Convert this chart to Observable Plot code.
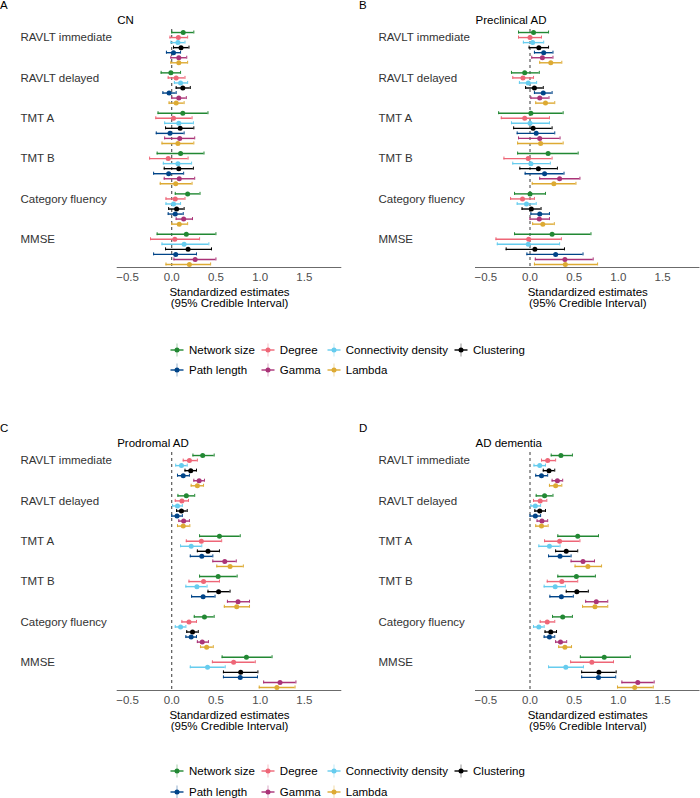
<!DOCTYPE html>
<html>
<head>
<meta charset="utf-8">
<script src="https://cdn.jsdelivr.net/npm/d3@7"></script>
<script src="https://cdn.jsdelivr.net/npm/@observablehq/plot@0.6"></script>
<style>
  html, body { margin: 0; padding: 0; background: #fff; }
  #root { position: relative; width: 700px; height: 798px; overflow: hidden; font-family: "Liberation Sans", Arial, sans-serif; font-size: 11.5px; color: #000; }
  .abs { position: absolute; }
  .letter { position: absolute; font-size: 11.5px; line-height: 1; }
  .legend { position: absolute; display: grid; grid-template-columns: auto auto auto auto; column-gap: 6px; grid-auto-rows: 20.6px; }
  .item { display: flex; align-items: center; white-space: nowrap; color: #000; }
  .item svg { margin-right: 5px; }
</style>
</head>
<body>
<div id="root"></div>
<script>
const FONT = '"Liberation Sans", Arial, sans-serif';

// ---- categories ----
const outcomes = ["RAVLT immediate", "RAVLT delayed", "TMT A", "TMT B", "Category fluency", "MMSE"];
const measures = ["Network size", "Degree", "Connectivity density", "Clustering", "Path length", "Gamma", "Lambda"];
const measureColors = ["#228833", "#EE6677", "#66CCEE", "#000000", "#004488", "#AA3377", "#DDAA33"];
const xTicks = [-0.5, 0, 0.5, 1, 1.5];
const xLabel = "Standardized estimates\n(95% Credible Interval)";

// ---- A: CN (rows = outcomes, columns = measures) ----
const cnEst = [
  [0.13, 0.075, 0.07, 0.105, 0.02, 0.08, 0.08],
  [-0.01, 0.05, 0.10, 0.125, -0.03, 0.08, 0.05],
  [0.125, 0.02, 0.08, 0.095, -0.02, 0.09, 0.07],
  [0.10, -0.04, 0.07, 0.08, -0.035, 0.085, 0.045],
  [0.18, 0.04, 0.02, 0.055, 0.04, 0.135, 0.085],
  [0.165, 0.035, 0.14, 0.185, 0.045, 0.265, 0.20]
];
const cnLo = [
  [0.0, -0.02, -0.01, 0.02, -0.06, -0.01, -0.01],
  [-0.12, -0.04, 0.03, 0.05, -0.10, 0.0, -0.03],
  [-0.155, -0.18, -0.08, -0.07, -0.175, -0.08, -0.11],
  [-0.165, -0.25, -0.095, -0.085, -0.205, -0.085, -0.13],
  [0.04, -0.065, -0.065, -0.035, -0.04, 0.05, 0.0],
  [-0.165, -0.24, -0.11, -0.07, -0.205, 0.025, -0.065]
];
const cnHi = [
  [0.25, 0.18, 0.15, 0.195, 0.10, 0.17, 0.18],
  [0.10, 0.15, 0.18, 0.21, 0.05, 0.165, 0.14],
  [0.41, 0.23, 0.245, 0.25, 0.14, 0.26, 0.25],
  [0.365, 0.185, 0.225, 0.245, 0.135, 0.26, 0.23],
  [0.32, 0.15, 0.10, 0.14, 0.13, 0.235, 0.18],
  [0.50, 0.315, 0.42, 0.45, 0.28, 0.50, 0.44]
];

// ---- B: Preclinical AD ----
const preEst = [
  [0.04, 0.0, 0.03, 0.10, 0.155, 0.14, 0.235],
  [-0.06, -0.08, -0.02, 0.05, 0.15, 0.11, 0.175],
  [0.01, -0.06, 0.0, 0.035, 0.07, 0.11, 0.12],
  [0.205, -0.02, 0.01, 0.095, 0.165, 0.335, 0.27],
  [0.0, -0.085, -0.04, 0.015, 0.11, 0.105, 0.145],
  [0.25, -0.015, -0.02, 0.055, 0.29, 0.395, 0.40]
];
const preLo = [
  [-0.13, -0.13, -0.075, -0.01, 0.05, 0.02, 0.11],
  [-0.21, -0.195, -0.12, -0.05, 0.05, 0.01, 0.065],
  [-0.355, -0.325, -0.21, -0.185, -0.145, -0.13, -0.14],
  [-0.14, -0.295, -0.195, -0.115, -0.055, 0.11, 0.025],
  [-0.175, -0.22, -0.145, -0.09, 0.01, 0.0, 0.03],
  [-0.175, -0.385, -0.37, -0.27, -0.035, 0.06, 0.05]
];
const preHi = [
  [0.21, 0.13, 0.155, 0.21, 0.26, 0.26, 0.36],
  [0.105, 0.04, 0.075, 0.15, 0.25, 0.215, 0.28],
  [0.375, 0.22, 0.22, 0.25, 0.28, 0.34, 0.375],
  [0.545, 0.25, 0.23, 0.31, 0.385, 0.565, 0.52],
  [0.175, 0.05, 0.07, 0.125, 0.22, 0.22, 0.275],
  [0.69, 0.355, 0.335, 0.39, 0.60, 0.715, 0.765]
];

// ---- C: Prodromal AD ----
const proEst = [
  [0.35, 0.20, 0.11, 0.215, 0.13, 0.31, 0.29],
  [0.165, 0.115, 0.065, 0.11, 0.06, 0.135, 0.13],
  [0.54, 0.335, 0.22, 0.41, 0.34, 0.60, 0.66],
  [0.525, 0.36, 0.285, 0.53, 0.355, 0.75, 0.735],
  [0.37, 0.195, 0.10, 0.235, 0.22, 0.345, 0.395],
  [0.845, 0.70, 0.405, 0.78, 0.775, 1.225, 1.19]
];
const proLo = [
  [0.24, 0.13, 0.045, 0.15, 0.065, 0.25, 0.22],
  [0.07, 0.04, 0.01, 0.055, 0.0, 0.08, 0.065],
  [0.315, 0.165, 0.10, 0.29, 0.21, 0.465, 0.51],
  [0.315, 0.195, 0.16, 0.41, 0.225, 0.63, 0.595],
  [0.255, 0.115, 0.04, 0.17, 0.16, 0.29, 0.325],
  [0.57, 0.46, 0.21, 0.585, 0.585, 1.04, 0.99]
];
const proHi = [
  [0.48, 0.29, 0.175, 0.28, 0.20, 0.37, 0.36],
  [0.26, 0.19, 0.12, 0.175, 0.12, 0.20, 0.205],
  [0.775, 0.565, 0.34, 0.54, 0.465, 0.73, 0.81],
  [0.74, 0.54, 0.40, 0.66, 0.49, 0.88, 0.88],
  [0.48, 0.28, 0.16, 0.30, 0.28, 0.415, 0.47],
  [1.135, 0.945, 0.605, 0.975, 0.97, 1.405, 1.395]
];

// ---- D: AD dementia ----
const demEst = [
  [0.35, 0.20, 0.11, 0.215, 0.13, 0.31, 0.29],
  [0.165, 0.115, 0.06, 0.11, 0.06, 0.135, 0.13],
  [0.54, 0.335, 0.22, 0.41, 0.34, 0.60, 0.655],
  [0.525, 0.36, 0.285, 0.53, 0.355, 0.75, 0.735],
  [0.37, 0.195, 0.10, 0.235, 0.22, 0.345, 0.395],
  [0.84, 0.70, 0.405, 0.78, 0.775, 1.22, 1.185]
];
const demLo = [
  [0.24, 0.13, 0.045, 0.15, 0.065, 0.25, 0.22],
  [0.07, 0.04, 0.01, 0.055, 0.0, 0.08, 0.065],
  [0.315, 0.165, 0.10, 0.29, 0.21, 0.465, 0.51],
  [0.315, 0.195, 0.16, 0.41, 0.225, 0.63, 0.595],
  [0.255, 0.115, 0.04, 0.17, 0.16, 0.29, 0.325],
  [0.57, 0.46, 0.21, 0.585, 0.585, 1.04, 0.99]
];
const demHi = [
  [0.48, 0.29, 0.175, 0.28, 0.20, 0.37, 0.36],
  [0.26, 0.19, 0.12, 0.175, 0.12, 0.20, 0.205],
  [0.775, 0.565, 0.34, 0.54, 0.465, 0.73, 0.81],
  [0.74, 0.54, 0.40, 0.66, 0.49, 0.88, 0.88],
  [0.48, 0.28, 0.16, 0.30, 0.28, 0.415, 0.47],
  [1.135, 0.945, 0.605, 0.975, 0.97, 1.405, 1.395]
];

const panels = [
  {letter: "A", title: "CN", est: cnEst, lo: cnLo, hi: cnHi},
  {letter: "B", title: "Preclinical AD", est: preEst, lo: preLo, hi: preHi},
  {letter: "C", title: "Prodromal AD", est: proEst, lo: proLo, hi: proHi},
  {letter: "D", title: "AD dementia", est: demEst, lo: demLo, hi: demHi}
];

// ---- layout ----
const GROUP = measures.length + 1;          // 7 rows + 1 gap per outcome
const Y_MIN = -0.6, Y_MAX = (outcomes.length - 1) * GROUP + measures.length - 1 + 0.6;
const X_DOMAIN = [-0.617, 1.924];

function makePanel(p, col) {
  const rows = [];
  outcomes.forEach((o, g) => measures.forEach((m, s) => rows.push({
    outcome: o, measure: m, row: g * GROUP + s,
    est: p.est[g][s], lo: p.lo[g][s], hi: p.hi[g][s]
  })));
  const marginLeft = col === 0 ? 116.7 : 125;
  const marginRight = col === 0 ? 8.7 : 0.5;
  const labelLeft = col === 0 ? 20 : 28;
  return Plot.plot({
    width: 350, height: 315,
    marginLeft, marginRight, marginTop: 29, marginBottom: 48,
    style: {fontFamily: FONT, fontSize: "11.5px", background: "transparent", overflow: "visible"},
    x: {domain: X_DOMAIN},
    y: {domain: [Y_MIN, Y_MAX], reverse: true},
    color: {domain: measures, range: measureColors},
    marks: [
      Plot.ruleX([0], {stroke: "#222", strokeWidth: 0.9, strokeDasharray: "3,3"}),
      Plot.ruleY([Y_MAX], {stroke: "#6b6b6b", strokeWidth: 1.1}),
      Plot.ruleY(rows, {y: "row", x1: "lo", x2: "hi", stroke: "measure", strokeWidth: 1.4}),
      Plot.ruleX(rows, {x: "lo", y1: d => d.row - 0.3, y2: d => d.row + 0.3, stroke: "measure", strokeWidth: 1}),
      Plot.ruleX(rows, {x: "hi", y1: d => d.row - 0.3, y2: d => d.row + 0.3, stroke: "measure", strokeWidth: 1}),
      Plot.dot(rows, {x: "est", y: "row", r: 2.5, fill: "measure", stroke: null}),
      Plot.axisX({ticks: xTicks, tickSize: 0, tickPadding: 5, tickFormat: d3.format(".1f"), fill: "#4d4d4d", label: null}),
      Plot.axisY({ticks: outcomes.map((_, g) => g * GROUP + 1), tickFormat: r => outcomes[(r - 1) / GROUP],
                  tickSize: 0, tickPadding: marginLeft - labelLeft, textAnchor: "start", fill: "#333", label: null}),
      Plot.text([p.title], {text: d => d, frameAnchor: "top-left", textAnchor: "start", lineAnchor: "bottom", dy: -5.7, fill: "#000"}),
      Plot.text([xLabel], {text: d => d, frameAnchor: "bottom", lineAnchor: "top", dy: 20.3, lineHeight: 1, fill: "#000"})
    ]
  });
}

function legendKey(color) {
  const svg = d3.create("svg").attr("width", 14).attr("height", 14);
  svg.append("line").attr("x1", 7).attr("x2", 7).attr("y1", 0.5).attr("y2", 13.5).attr("stroke", color).attr("stroke-opacity", 0.35).attr("stroke-width", 1.2);
  svg.append("line").attr("x1", 0.5).attr("x2", 13.5).attr("y1", 7).attr("y2", 7).attr("stroke", color).attr("stroke-width", 1.4);
  svg.append("circle").attr("cx", 7).attr("cy", 7).attr("r", 2.5).attr("fill", color);
  return svg.node();
}

const root = document.getElementById("root");
const halves = [0, 423];
panels.forEach((p, i) => {
  const col = i % 2, top = halves[Math.floor(i / 2)];
  const wrap = document.createElement("div");
  wrap.className = "abs";
  wrap.style.left = (col * 350) + "px";
  wrap.style.top = top + "px";
  wrap.appendChild(makePanel(p, col));
  root.appendChild(wrap);
  const L = document.createElement("div");
  L.className = "letter";
  L.textContent = p.letter;
  L.style.left = (col === 0 ? 0 : 359) + "px";
  L.style.top = top + "px";
  root.appendChild(L);
});

[0, 421.5].forEach(top => {
  const lg = document.createElement("div");
  lg.className = "legend";
  lg.style.left = "170px";
  lg.style.top = (top + 339.4) + "px";
  measures.forEach((m, i) => {
    const it = document.createElement("div");
    it.className = "item";
    it.appendChild(legendKey(measureColors[i]));
    const t = document.createElement("span");
    t.textContent = m;
    it.appendChild(t);
    lg.appendChild(it);
  });
  root.appendChild(lg);
});
</script>
</body>
</html>
